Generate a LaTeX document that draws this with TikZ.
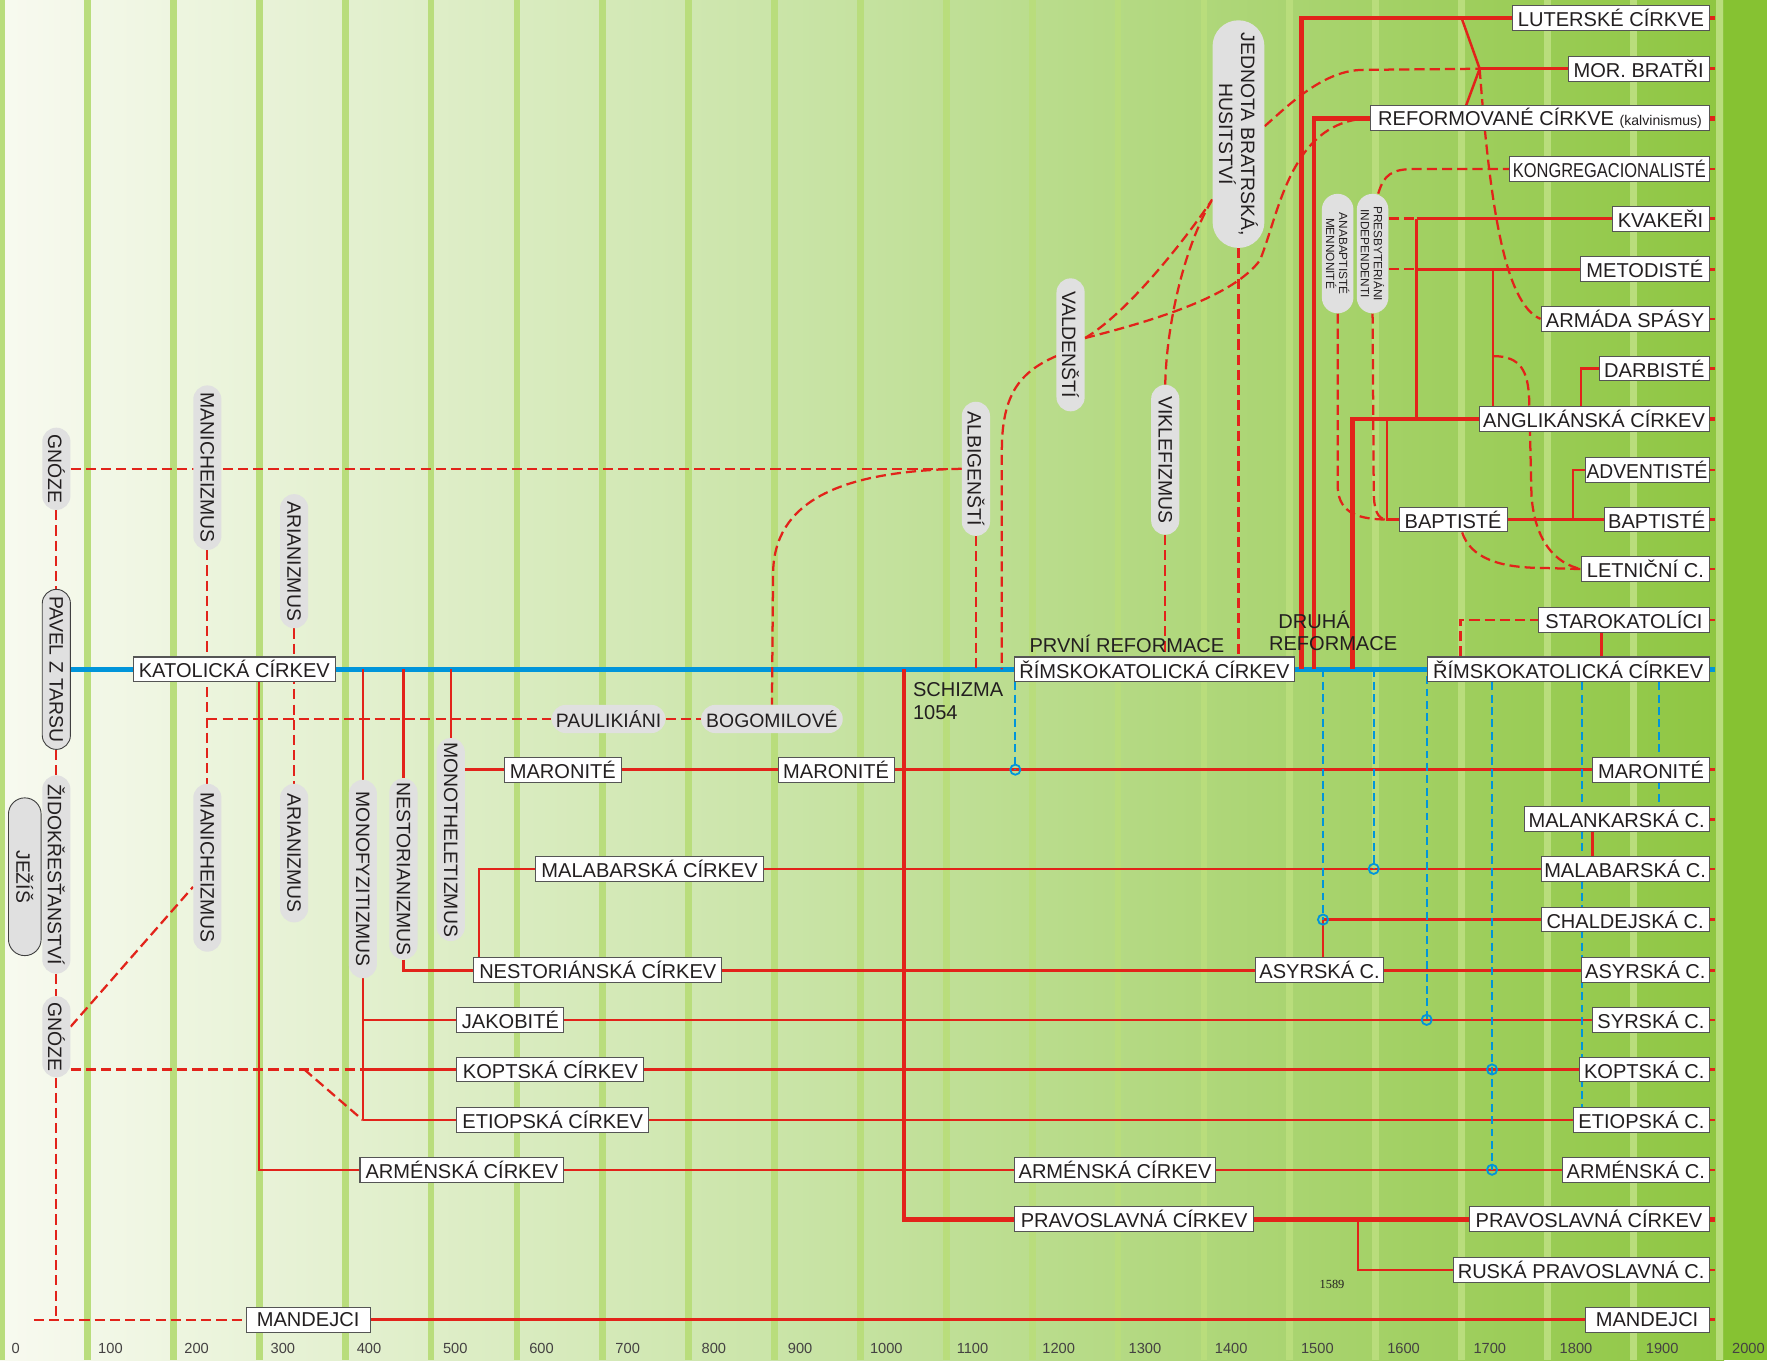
\documentclass[tikz,border=0pt]{standalone}
\usepackage{fontspec}
\setmainfont{Liberation Sans}
\newfontfamily\numserif{Liberation Serif}
\usetikzlibrary{shapes.misc}
\definecolor{redl}{HTML}{E2231A}
\definecolor{bluel}{HTML}{0095DA}
\definecolor{pillg}{HTML}{E0E0E0}
\definecolor{boxb}{HTML}{555555}
\definecolor{txt}{HTML}{231F20}
\definecolor{stripe}{HTML}{B9DD7C}
\definecolor{bgA}{HTML}{F8FAF0}
\definecolor{bgC}{HTML}{C5E2A0}
\definecolor{bgD}{HTML}{8EC641}
\definecolor{bgE}{HTML}{86C232}
\pgfdeclarelayer{back}\pgfdeclarelayer{lines}\pgfsetlayers{back,lines,main}
\tikzset{
  rl/.style={draw=redl, line width=2.2pt},
  rlm/.style={draw=redl, line width=3pt},
  rlk/.style={draw=redl, line width=4pt},
  rd/.style={draw=redl, line width=2pt, dash pattern=on 9pt off 4.5pt},
  bl/.style={draw=bluel, line width=4pt},
  bd/.style={draw=bluel, line width=1.6pt, dash pattern=on 7pt off 4pt},
  circ/.style={circle, draw=bluel, line width=1.6pt, minimum size=9pt, inner sep=0pt},
  box/.style={draw=boxb, fill=white, line width=0.9pt, inner xsep=1pt, inner ysep=1pt, minimum height=22pt, text=txt, font=\fontsize{17.8}{20}\selectfont},
  bw/.style={box, minimum width=#1},
  pill/.style={rounded rectangle, fill=pillg, inner xsep=2pt, inner ysep=1pt, minimum height=25pt, minimum width=#1, text=txt, font=\fontsize{17.2}{19.5}\selectfont},
  vpill/.style={pill=#1, rotate=-90},
  lbl/.style={text=txt, font=\fontsize{17.8}{20}\selectfont, inner sep=0pt},
  ax/.style={text=txt!85, font=\fontsize{13}{15}\selectfont, inner sep=0pt},
}
\begin{document}
\begin{tikzpicture}[x=1pt,y=-1pt]
\useasboundingbox (0,0) rectangle (1568,1207);
\begin{pgfonlayer}{back}
\shade[left color=bgA, right color=bgC] (0,0) rectangle (765,1207);
\shade[left color=bgC, right color=bgD] (765,0) rectangle (1530,1207);
\fill[bgE] (1530,0) rectangle (1568,1207);
\foreach \k in {0,...,20} \fill[stripe] ({1.5+76.2*\k-3},0) rectangle ({1.5+76.2*\k+3},1207);
\end{pgfonlayer}

% ---------- right column boxes ----------
\node[bw=174, anchor=east] (r0) at (1517,16) {LUTERSKÉ CÍRKVE};
\node[bw=125, anchor=east] (r1) at (1517,61) {MOR. BRATŘI};
\node[bw=300, anchor=east] (r2) at (1517,105) {REFORMOVANÉ CÍRKVE {\fontsize{12.5}{14}\selectfont (kalvinismus)}};
\node[bw=177, anchor=east] (r3) at (1517,150) {\scalebox{0.82}[1]{KONGREGACIONALISTÉ}};
\node[bw=86, anchor=east] (r4) at (1517,194) {KVAKEŘI};
\node[bw=114, anchor=east] (r5) at (1517,239) {METODISTÉ};
\node[bw=149, anchor=east] (r6) at (1517,283) {ARMÁDA SPÁSY};
\node[bw=97, anchor=east] (r7) at (1517,327) {DARBISTÉ};
\node[bw=204, anchor=east] (r8) at (1517,372) {ANGLIKÁNSKÁ CÍRKEV};
\node[bw=110, anchor=east] (r9) at (1517,417) {\scalebox{0.96}[1]{ADVENTISTÉ}};
\node[bw=93, anchor=east] (r10) at (1517,461) {BAPTISTÉ};
\node[bw=113, anchor=east] (r11) at (1517,505) {LETNIČNÍ C.};
\node[bw=151, anchor=east] (r12) at (1517,550) {STAROKATOLÍCI};
\node[bw=250, anchor=east] (r13) at (1517,594) {ŘÍMSKOKATOLICKÁ CÍRKEV};
\node[bw=103, anchor=east] (r15) at (1517,683) {MARONITÉ};
\node[bw=164, anchor=east] (r16) at (1517,727) {MALANKARSKÁ C.};
\node[bw=149, anchor=east] (r17) at (1517,771) {MALABARSKÁ C.};
\node[bw=149, anchor=east] (r18) at (1517,816) {CHALDEJSKÁ C.};
\node[bw=113, anchor=east] (r19) at (1517,861) {ASYRSKÁ C.};
\node[bw=103, anchor=east] (r20) at (1517,905) {SYRSKÁ C.};
\node[bw=115, anchor=east] (r21) at (1517,949) {KOPTSKÁ C.};
\node[bw=120, anchor=east] (r22) at (1517,994) {ETIOPSKÁ C.};
\node[bw=130, anchor=east] (r23) at (1517,1038) {ARMÉNSKÁ C.};
\node[bw=213, anchor=east] (r24) at (1517,1082) {PRAVOSLAVNÁ CÍRKEV};
\node[bw=227, anchor=east] (r25) at (1517,1127) {RUSKÁ PRAVOSLAVNÁ C.};
\node[bw=110, anchor=east] (r26) at (1517,1171) {MANDEJCI};

% ---------- other boxes ----------
\node[bw=179, anchor=west] (kat) at (118,594) {KATOLICKÁ CÍRKEV};
\node[bw=104, anchor=west] (mar1) at (447,683) {MARONITÉ};
\node[bw=103, anchor=west] (mar2) at (690,683) {MARONITÉ};
\node[bw=202, anchor=west] (malab) at (475,771) {MALABARSKÁ CÍRKEV};
\node[bw=220, anchor=west] (nestc) at (420,861) {NESTORIÁNSKÁ CÍRKEV};
\node[bw=113, anchor=west] (asyr1) at (1114,861) {ASYRSKÁ C.};
\node[bw=95, anchor=west] (jak) at (405,905) {JAKOBITÉ};
\node[bw=166, anchor=west] (kopt) at (405,949) {KOPTSKÁ CÍRKEV};
\node[bw=170, anchor=west] (etio) at (405,994) {ETIOPSKÁ CÍRKEV};
\node[bw=181, anchor=west] (arm1) at (319,1038) {ARMÉNSKÁ CÍRKEV};
\node[bw=178, anchor=west] (arm2) at (900,1038) {ARMÉNSKÁ CÍRKEV};
\node[bw=212, anchor=west] (prav1) at (900,1082) {PRAVOSLAVNÁ CÍRKEV};
\node[bw=248, anchor=west] (rim1) at (900,594) {ŘÍMSKOKATOLICKÁ CÍRKEV};
\node[bw=96, anchor=west] (bapt1) at (1241,461) {BAPTISTÉ};
\node[bw=110, anchor=west] (mand1) at (218,1171) {MANDEJCI};

% ---------- pills ----------
\node[vpill=77] (gn1) at (50,416) {GNÓZE};
\node[vpill=146, draw=black!75, line width=0.8pt] (pavel) at (50,594) {PAVEL Z TARSU};
\node[vpill=180] (zid) at (50,776) {ŽIDOKŘESŤANSTVÍ};
\node[vpill=144, draw=black!75, line width=0.8pt, minimum height=29pt] (jezis) at (22,778) {JEŽÍŠ};
\node[vpill=76] (gn2) at (50,920) {GNÓZE};
\node[vpill=150] (man1) at (184,415) {MANICHEIZMUS};
\node[vpill=123] (ari1) at (261,498) {ARIANIZMUS};
\node[vpill=153] (man2) at (184,770) {MANICHEIZMUS};
\node[vpill=127] (ari2) at (261,757) {ARIANIZMUS};
\node[vpill=180] (mono) at (322,780) {MONOFYZITIZMUS};
\node[vpill=155] (nest) at (358,771) {NESTORIANIZMUS};
\node[vpill=170] (mth) at (400,745) {MONOTHELETIZMUS};
\node[pill=105] (pauli) at (540,638) {PAULIKIÁNI};
\node[pill=125] (bogo) at (685,638) {BOGOMILOVÉ};
\node[vpill=123] (albi) at (866,416) {ALBIGENŠTÍ};
\node[vpill=122] (vald) at (950,306) {VALDENŠTÍ};
\node[vpill=137] (vikl) at (1034,408) {VIKLEFIZMUS};
\node[vpill=206, minimum height=46pt, align=center] (jedn) at (1099,119) {JEDNOTA BRATRSKÁ,\\HUSITSTVÍ};
\node[vpill=110, minimum height=28pt, align=center, font=\fontsize{10.5}{11.5}\selectfont] (anab) at (1187,225) {ANABAPTISTÉ\\MENNONITÉ};
\node[vpill=110, minimum height=28pt, align=center, font=\fontsize{10.5}{11.5}\selectfont] (pres) at (1218,225) {PRESBYTERIÁNI\\INDEPENDENTI};

% ---------- labels ----------
\node[lbl] (prvni) at (1000,571) {PRVNÍ REFORMACE};
\node[lbl] (druha) at (1166,550) {DRUHÁ};
\node[lbl] (druhb) at (1183,571) {REFORMACE};
\node[lbl, anchor=west] (schizma) at (810,612) {SCHIZMA};
\node[lbl, anchor=west] (schizmb) at (810,632) {1054};
\node[text=txt, inner sep=0pt, font=\numserif\fontsize{11}{13}\selectfont] (y1589) at (1182,1140) {1589};
\node[ax] (ax0) at (14,1197) {0};
\foreach \k in {1,...,20} \node[ax] (ax\k) at ({21.5+76.5*\k},1197) {\number\numexpr\k*100\relax};

% ---------- coordinates ----------
\coordinate (g50) at (50,1171);
\coordinate (mL) at (30,1171);
\coordinate (p184) at (184,638);
\coordinate (j322k) at (322,949);
\coordinate (j322j) at (322,905);
\coordinate (j322e) at (322,994);
\coordinate (d270) at (270,949);
\coordinate (b322) at (322,594);
\coordinate (b358) at (358,594);
\coordinate (b400) at (400,594);
\coordinate (a230) at (230,1038);
\coordinate (m425) at (425,771);
\coordinate (b802) at (802,594);
\coordinate (j1205) at (1205,1082);
\coordinate (c1174) at (1174,816);
\coordinate (x1413) at (1413,0);
\coordinate (x1421) at (1421,0);
\coordinate (x1296) at (1296,0);
\coordinate (b866) at (866,594);
\coordinate (b889) at (889,594);
\coordinate (b1034) at (1034,594);
\coordinate (b1099) at (1099,594);
\coordinate (b1155) at (1155,594);
\coordinate (b1166) at (1166,594);
\coordinate (b1200) at (1200,594);
\coordinate (l1297) at (1297,16);
\coordinate (mor) at (1313,61);
\coordinate (x1301) at (1301,0);
\coordinate (k1257) at (1257,194);
\coordinate (m1257) at (1257,239);
\coordinate (m1325) at (1325,239);
\coordinate (l1325) at (1325,316);
\coordinate (d1403) at (1403,327);
\coordinate (ad1396) at (1396,461);
\coordinate (a1231) at (1231,372);
\coordinate (j1231) at (1231,461);
\coordinate (u901) at (901,0);
\coordinate (c901) at (901,683);
\coordinate (b1174) at (1174,594);
\coordinate (b1219) at (1219,594);
\coordinate (c1219) at (1219,771);
\coordinate (u1266) at (1266,600);
\coordinate (c1266) at (1266,905);
\coordinate (u1324) at (1324,0);
\coordinate (c1324a) at (1324,949);
\coordinate (c1324b) at (1324,1038);
\coordinate (u1404) at (1404,0);
\coordinate (u1472) at (1472,0);

% ---------- connectors ----------
\begin{pgfonlayer}{lines}
% blue catholic line
\draw[bl] (pavel.north) -- (kat.west) (kat.east) -- (rim1.west) (rim1.east) -- (r13.west) (r13.east) -- ++(5,0);
% early lineage
\draw[rd] (gn1.east) -- (pavel.west);
\draw[rd] (pavel.east) -- (zid.west);
\draw[rd] (zid.east) -- (gn2.west);
\draw[rd] (gn2.east) -- (g50);
\draw[rd] (mL) -- (mand1.west);
\draw[rlm] (mand1.east) -- (r26.west) (r26.east) -- ++(5,0);
\draw[rd] (gn1.north) -- (albi.south);
\draw[rd] (albi.south) .. controls (745,418) and (686,445) .. (686,510) -- (bogo.north);
\draw[rd] (man1.east) -- (man2.west);
\draw[rd] (ari1.east) -- (ari2.west);
\draw[rd] (p184) -- (pauli.west);
\draw[rd] (pauli.east) -- (bogo.west);
\draw[rd] ([yshift=9pt]gn2.north) -- ([yshift=-17pt]man2.south);
\draw[rd] ([yshift=-29pt]gn2.north) -- (j322k);
\draw[rd] (d270) -- (j322e);
% oriental churches
\draw[rl] (b322) -- (mono.west) (mono.east) -- (j322e);
\draw[rl] (j322j) -- (jak.west);
\draw[rl] (j322k) -- (kopt.west);
\draw[rl] (j322e) -- (etio.west);
\draw[rl] (kat.south -| a230) -- (a230) -- (arm1.west);
\draw[rl] (b358) -- (nest.west);
\draw[rl] (nest.east) |- (nestc.west);
\draw[rl] (b400) -- (mth.west);
\draw[rl] (mth.north |- mar1.west) -- (mar1.west);
\draw[rl] (mar1.east) -- (mar2.west) (mar2.east) -- (r15.west) (r15.east) -- ++(5,0);
\draw[rl] (nestc.north -| m425) -- (m425) -- (malab.west);
\draw[rl] (malab.east) -- (r17.west) (r17.east) -- ++(5,0);
\draw[rl] (nestc.east) -- (asyr1.west) (asyr1.east) -- (r19.west) (r19.east) -- ++(5,0);
\draw[rl] (jak.east) -- (r20.west) (r20.east) -- ++(5,0);
\draw[rl] (kopt.east) -- (r21.west) (r21.east) -- ++(5,0);
\draw[rl] (etio.east) -- (r22.west) (r22.east) -- ++(5,0);
\draw[rl] (arm1.east) -- (arm2.west) (arm2.east) -- (r23.west) (r23.east) -- ++(5,0);
\draw[rlk] (b802) |- (prav1.west);
\draw[rlk] (prav1.east) -- (r24.west) (r24.east) -- ++(5,0);
\draw[rl] (j1205) |- (r25.west);
\draw[rl] (r25.east) -- ++(5,0);
\draw[rl] (asyr1.north -| c1174) -- (c1174) -- (r18.west) (r18.east) -- ++(5,0);
\draw[rl] (r16.south -| x1413) -- (r17.north -| x1413);
\draw[rl] (r16.east) -- ++(5,0);
\draw[rl] (r12.south -| x1421) -- (r13.north -| x1421);
\draw[rl] (r12.east) -- ++(5,0);
\draw[rd] (r13.north -| x1296) |- (r12.west);
% medieval movements
\draw[rd] (albi.east) -- (b866);
\draw[rd] ([yshift=-10pt]vald.south) .. controls (905,330) and (889,350) .. (889,400) -- (b889);
\draw[rd] (vikl.east) -- (b1034);
\draw[rd] (jedn.east) -- (b1099);
\draw[rd] ([yshift=6pt]vald.north) .. controls (1000,278) and (1050,215) .. ([yshift=-58pt]jedn.south);
\draw[rd] (vikl.west) .. controls (1035,290) and (1050,220) .. ([yshift=-58pt]jedn.south);
\draw[rd] ([yshift=6pt]vald.north) .. controls (1030,283) and (1095,262) .. (1118,231) .. controls (1135,190) and (1145,106) .. (r2.west);
\draw[rd] ([yshift=7pt]jedn.north) .. controls (1145,92) and (1175,62) .. (1210,62) -- (mor);
% reformation
\draw[rlk] (b1155) |- (r0.west);
\draw[rlk] (r0.east) -- ++(5,0);
\draw[rlk] (b1166) |- (r2.west);
\draw[rlk] (r2.east) -- ++(5,0);
\draw[rlk] (b1200) |- (r8.west);
\draw[rlk] (r8.east) -- ++(5,0);
\draw[rl] (l1297) -- (mor) -- (r2.north -| x1301);
\draw[rlm] (mor) -- (r1.west) (r1.east) -- ++(5,0);
\draw[rd] (mor) .. controls (1322,180) and (1335,270) .. (r6.west);
\draw[rl] (r6.east) -- ++(5,0);
\draw[rd] ([xshift=5pt]pres.west) .. controls (1228,155) and (1235,150) .. (1255,150) -- (r3.west);
\draw[rl] (r3.east) -- ++(5,0);
\draw[rd] (pres.north |- r4.west) -- (k1257);
\draw[rl] (k1257) -- (r4.west) (r4.east) -- ++(5,0);
\draw[rl] (k1257) -- (k1257 |- r8.west);
\draw[rd] (pres.north |- r5.west) -- (m1257);
\draw[rl] (m1257) -- (r5.west) (r5.east) -- ++(5,0);
\draw[rl] (m1325) -- (r8.north -| m1325);
\draw[rd] (l1325) .. controls (1350,316) and (1356,330) .. (1357,355) -- (1359,440) .. controls (1362,480) and (1380,500) .. (r11.west);
\draw[rl] (r11.east) -- ++(5,0);
\draw[rl] (r8.north -| d1403) |- (r7.west);
\draw[rl] (r7.east) -- ++(5,0);
\draw[rl] (ad1396) |- (r9.west);
\draw[rl] (r9.east) -- ++(5,0);
\draw[rl] (bapt1.east) -- (r10.west) (r10.east) -- ++(5,0);
\draw[rl] (a1231) -- (j1231) -- (bapt1.west);
\draw[rd] (anab.east) -- (1187,430) .. controls (1187,452) and (1200,461) .. (j1231);
\draw[rd] (pres.east) -- (1219,435) .. controls (1219,452) and (1222,461) .. (j1231);
\draw[rd] ([xshift=8pt]bapt1.south) .. controls (1305,495) and (1330,504) .. (1370,504) -- (r11.west);
% unions with Rome
\draw[bd] (rim1.south -| u901) -- (c901);
\draw[bd] (b1174) -- (c1174);
\draw[bd] (b1219) -- (c1219);
\draw[bd] (u1266) -- (c1266);
\draw[bd] (r13.south -| u1324) -- (c1324b);
\draw[bd] (r13.south -| u1404) -- (r22.north -| u1404);
\draw[bd] (r13.south -| u1472) -- (r16.north -| u1472);
\end{pgfonlayer}
\node[circ] (o901) at (c901) {};
\node[circ] (o1174) at (c1174) {};
\node[circ] (o1219) at (c1219) {};
\node[circ] (o1266) at (c1266) {};
\node[circ] (o1324a) at (c1324a) {};
\node[circ] (o1324b) at (c1324b) {};
\end{tikzpicture}
\end{document}
